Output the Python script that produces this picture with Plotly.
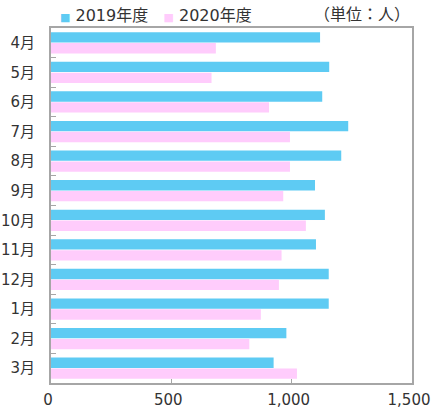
import plotly.graph_objects as go

months = ["4月", "5月", "6月", "7月", "8月", "9月", "10月", "11月", "12月", "1月", "2月", "3月"]
fy2019 = [1118, 1156, 1127, 1235, 1206, 1097, 1138, 1101, 1154, 1154, 978, 925]
fy2020 = [685, 667, 906, 993, 993, 965, 1059, 958, 947, 872, 824, 1022]
series_names = ["2019年度", "2020年度"]
x_ticks = [0, 500, 1000, 1500]
x_tick_text = ["0", "500", "1,000", "1,500"]

FONT = "DejaVu Sans, Noto Sans CJK JP, sans-serif"
CJK = "Noto Sans CJK JP, sans-serif"
BLUE = "#5ECBF3"
PINK = "#FFCCFC"
TEXT = "#333333"
FRAME = "#a6a6a6"

fig = go.Figure()
fig.add_trace(go.Bar(y=months, x=fy2019, orientation="h", name=series_names[0],
                     marker=dict(color=BLUE, line=dict(width=0))))
fig.add_trace(go.Bar(y=months, x=fy2020, orientation="h", name=series_names[1],
                     marker=dict(color=PINK, line=dict(width=0))))

# compact legend row: small coloured squares followed by the series names
sq = "<span style='color:{c};font-size:11px'>■</span>"
legend_text = (sq.format(c=BLUE) + "&nbsp;" + series_names[0] + "&nbsp;&nbsp;&nbsp;"
               + sq.format(c=PINK) + "&nbsp;" + series_names[1])

fig.update_layout(
    width=433, height=410,
    margin=dict(l=51, r=21, t=28, b=27, autoexpand=False),
    paper_bgcolor="white", plot_bgcolor="white",
    barmode="group", bargap=0.26, bargroupgap=0.06,
    font=dict(family=FONT, size=15, color=TEXT),
    showlegend=False,
    xaxis=dict(range=[0, 1500], tickvals=x_ticks, ticktext=x_tick_text,
               showgrid=False, zeroline=False, showline=True, linecolor=FRAME,
               linewidth=2, mirror=True, ticks="inside", ticklen=4, tickcolor=FRAME,
               tickfont=dict(size=15), ticklabelshift=-3, ticklabelstandoff=2),
    yaxis=dict(autorange="reversed", type="category", showgrid=False, zeroline=False,
               showline=True, linecolor=FRAME, linewidth=2, mirror=True,
               ticks="inside", tickson="boundaries", ticklen=5, tickcolor=FRAME,
               tickfont=dict(size=15), ticklabelstandoff=11),
    annotations=[
        dict(text=legend_text, xref="paper", yref="paper", x=0.02, y=1.0,
             xanchor="left", yanchor="bottom", yshift=1, showarrow=False,
             font=dict(size=16, color=TEXT)),
        dict(text="（単位：人）", xref="paper", yref="paper", x=1.0, y=1.0,
             xanchor="right", yanchor="bottom", yshift=1, showarrow=False,
             font=dict(family=CJK, size=16, color=TEXT)),
    ],
)

fig.write_html("out.html")
